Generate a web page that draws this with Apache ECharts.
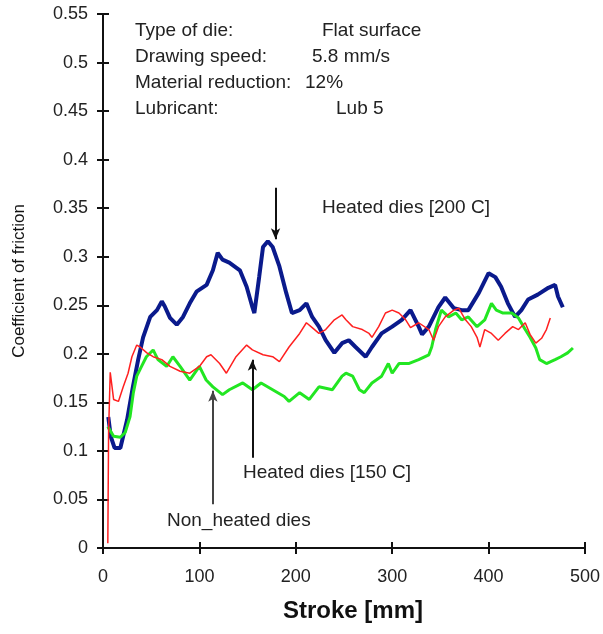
<!DOCTYPE html>
<html><head><meta charset="utf-8">
<script src="https://cdn.jsdelivr.net/npm/echarts@6/dist/echarts.min.js"></script>
<style>html,body{margin:0;padding:0;background:#fff}#c{width:603px;height:634px}</style>
</head><body><div id="c"></div>
<script>
// Heated dies [200 C] (blue)
const strokeH200 = [5.5,8,12,18,25,31,36.5,41.6,49,56,61,64,69.5,76.5,83,90,97,107.5,114,119,124,131,142,149,155,157,162,166,171,176,183,190,196,204,211,217,224,231,240,248,255,262,272.5,279,289,300,310,319,327.5,331,338,348,355,364,372,379,390,400,407,413,420,427.5,434,441,451,462,469,472,477];
const cofH200 = [0.135,0.115,0.103,0.103,0.132,0.166,0.194,0.217,0.238,0.245,0.254,0.249,0.237,0.230,0.238,0.252,0.264,0.271,0.286,0.304,0.297,0.294,0.286,0.269,0.248,0.242,0.279,0.310,0.316,0.310,0.290,0.263,0.242,0.245,0.252,0.238,0.228,0.214,0.201,0.211,0.214,0.207,0.197,0.207,0.221,0.228,0.235,0.245,0.228,0.220,0.228,0.248,0.258,0.247,0.245,0.245,0.263,0.283,0.279,0.269,0.252,0.238,0.245,0.256,0.261,0.268,0.271,0.259,0.248];
// Non_heated dies (green)
const strokeNon = [5,11,18,23,28,31.5,35,40,45,52,57,66,72.5,80,90,100,107,114,124,131,145,155,164,176,188,193,204,214,224,238,248,252,259,266,271,279,289,296,300,307,317,327.5,338,341,345,351,358.5,366,372,379,388,396,403,408,415,424,431,438,443,449,453,460,469,475,482,487.5];
const cofNon = [0.125,0.115,0.114,0.119,0.135,0.160,0.177,0.187,0.197,0.204,0.194,0.187,0.197,0.187,0.173,0.187,0.173,0.166,0.158,0.163,0.170,0.163,0.170,0.163,0.156,0.151,0.160,0.153,0.166,0.163,0.177,0.180,0.177,0.163,0.160,0.170,0.177,0.190,0.180,0.190,0.190,0.194,0.199,0.207,0.225,0.245,0.238,0.242,0.235,0.238,0.228,0.235,0.252,0.245,0.242,0.242,0.237,0.225,0.217,0.206,0.194,0.190,0.194,0.197,0.201,0.206];
// Heated dies [150 C] (red)
const strokeH150 = [5,5.8,7.5,11,16,21,26,30,35,38.5,45.5,52,61,69.5,80,90,100,107.5,112,121,128,138,149,155,166,176,183,193,204,211,217,224,231,240,248,252,259,269,276,279,286,293,300,307,314,319,327.5,338,343,348,355,364,369,376,382,388,391,396,403,410,417,425,431,438,443,449,455,460,464];
const cofH150 = [0.005,0.12,0.181,0.153,0.151,0.166,0.180,0.197,0.209,0.207,0.201,0.197,0.194,0.187,0.182,0.180,0.187,0.197,0.199,0.190,0.180,0.197,0.209,0.204,0.199,0.197,0.192,0.207,0.221,0.232,0.227,0.221,0.225,0.235,0.240,0.235,0.228,0.225,0.221,0.217,0.228,0.242,0.245,0.242,0.235,0.227,0.232,0.225,0.214,0.228,0.238,0.245,0.247,0.235,0.228,0.217,0.207,0.225,0.221,0.214,0.221,0.228,0.225,0.232,0.220,0.211,0.216,0.225,0.237];
const xTicks = [0,100,200,300,400,500];
const yMax = 0.55, yStep = 0.05;

const pair = (xs, ys) => xs.map((x, i) => [x, ys[i]]);
const font = 'Arial, "Liberation Sans", sans-serif';
const chart = echarts.init(document.getElementById('c'), null, {renderer: 'canvas'});
const axisLineStyle = {color: '#111', width: 2};
function arrowLine(x, y1, y2, color) {
  return {
    silent: true, symbol: ['none', 'arrow'], symbolSize: [7, 11],
    lineStyle: {color: color, width: 2, type: 'solid'}, label: {show: false},
    data: [[{coord: [x, y1]}, {coord: [x, y2]}]]
  };
}
const T = (text, left, top) => ({type: 'text', left: left, top: top,
  style: {text: text, font: '19px ' + font, fill: '#222'}});
chart.setOption({
  animation: false,
  backgroundColor: '#fff',
  grid: {left: 103, right: 16, top: 14, bottom: 86, containLabel: false},
  xAxis: [{
    type: 'value', min: 0, max: 500, interval: 100,
    axisLine: {lineStyle: axisLineStyle}, splitLine: {show: false},
    axisTick: {show: true, length: 6, lineStyle: {color: '#111', width: 2}},
    axisLabel: {margin: 20, fontSize: 18, color: '#222', fontFamily: font},
    name: 'Stroke [mm]', nameLocation: 'middle', nameGap: 51,
    nameTextStyle: {fontSize: 24, fontWeight: 'bold', color: '#111', fontFamily: font, padding: [0, 0, 0, 18]}
  }, {
    type: 'value', min: 0, max: 500, interval: 100, position: 'bottom',
    axisLine: {show: false}, splitLine: {show: false}, axisLabel: {show: false},
    axisTick: {show: true, inside: true, length: 6, lineStyle: {color: '#111', width: 2}}
  }],
  yAxis: [{
    type: 'value', min: 0, max: yMax, interval: yStep,
    axisLine: {show: true, lineStyle: axisLineStyle}, splitLine: {show: false},
    axisTick: {show: true, length: 6, lineStyle: {color: '#111', width: 2}},
    axisLabel: {margin: 15, fontSize: 18, color: '#222', fontFamily: font,
      formatter: v => String(Math.round(v * 100) / 100)},
    name: 'Coefficient of friction', nameLocation: 'middle', nameGap: 75, nameRotate: 90,
    nameTextStyle: {fontSize: 17, color: '#111', fontFamily: font}
  }, {
    type: 'value', min: 0, max: yMax, interval: yStep, position: 'left',
    axisLine: {show: false}, splitLine: {show: false}, axisLabel: {show: false},
    axisTick: {show: true, inside: true, length: 6, lineStyle: {color: '#111', width: 2}}
  }],
  series: [{
    name: 'Heated dies [200 C]', type: 'line', data: pair(strokeH200, cofH200),
    showSymbol: false, smooth: false, z: 3,
    lineStyle: {color: '#0a1a8c', width: 4}, itemStyle: {color: '#0a1a8c'},
    markLine: arrowLine(179, 0.371, 0.318, '#111')
  }, {
    name: 'Non_heated dies', type: 'line', data: pair(strokeNon, cofNon),
    showSymbol: false, z: 4,
    lineStyle: {color: '#22e622', width: 3}, itemStyle: {color: '#22e622'},
    markLine: arrowLine(114, 0.045, 0.162, '#444')
  }, {
    name: 'Heated dies [150 C]', type: 'line', data: pair(strokeH150, cofH150),
    showSymbol: false, z: 5,
    lineStyle: {color: '#ff2020', width: 1.5}, itemStyle: {color: '#ff2020'},
    markLine: arrowLine(155, 0.093, 0.194, '#111')
  }],
  graphic: [
    T('Type of die:', 135, 21),
    T('Drawing speed:', 135, 47),
    T('Material reduction:', 135, 73),
    T('Lubricant:', 135, 99),
    T('Flat surface', 322, 21),
    T('5.8 mm/s', 312, 47),
    T('12%', 305, 73),
    T('Lub 5', 336, 99),
    T('Heated dies [200 C]', 322, 198),
    T('Heated dies [150 C]', 243, 463),
    T('Non_heated dies', 167, 511)
  ]
});
</script></body></html>
